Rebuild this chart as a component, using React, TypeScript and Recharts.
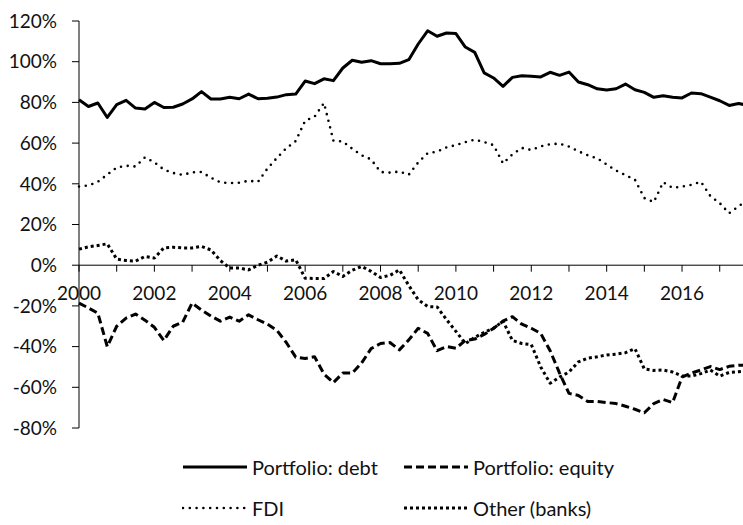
import { Legend, Line, LineChart, ReferenceLine, XAxis, YAxis } from "recharts";

// quarterly observations, 2000Q1 .. 2017Q4 (share of total, %)
const quarters = Array.from({ length: 72 }, (_, i) => 2000 + i / 4);

const debt = [
  81.3, 78.0, 79.7, 72.6, 78.9, 81.0, 77.2, 76.8, 80.0, 77.5, 77.6, 79.2,
  81.7, 85.3, 81.7, 81.7, 82.5, 81.8, 84.1, 81.8, 82.0, 82.6, 83.8, 84.1,
  90.5, 89.2, 91.6, 90.7, 96.9, 100.7, 99.7, 100.5, 99.0, 99.0, 99.2, 101.0,
  108.7, 115.2, 112.5, 114.1, 113.8, 107.2, 104.6, 94.5, 92.0, 87.9, 92.3, 93.1,
  92.8, 92.5, 94.8, 93.3, 94.9, 90.0, 88.7, 86.7, 86.1, 86.7, 89.0, 86.2,
  84.9, 82.5, 83.3, 82.5, 82.2, 84.6, 84.3, 82.6, 80.8, 78.5, 79.5, 78.5,
];

const equity = [
  -18.6, -21, -23.6, -40, -30, -26, -24, -27, -30.5, -37, -30, -28,
  -18.6, -22, -25, -27.5, -25.5, -27.5, -24.4, -26.8, -29, -32, -38, -45.2,
  -45.8, -45, -53.5, -57.7, -53, -53, -48, -41, -38.5, -38, -41.6, -36.7,
  -31, -33.5, -42, -40, -40.8, -37, -36.3, -34, -31, -27.5, -25.3, -29,
  -31, -33.5, -42, -53, -63, -64, -67, -67, -67.5, -68, -69.3, -70.8,
  -72.5, -68, -66, -67.5, -55, -53, -51.5, -49.8, -51.3, -49.7, -49.2, -49,
];

const fdi = [
  38.7, 39.2, 41, 44.5, 48, 48.9, 48.5, 53, 50.5, 47, 45.3, 44.4,
  45.6, 45.8, 43, 40.7, 40.4, 40.5, 41.5, 41, 47.5, 52.7, 57.5, 61,
  71, 73, 79.7, 61.2, 60.8, 57.2, 54, 52, 45.8, 45.5, 46, 44.5,
  50.5, 55, 55.8, 57.9, 59, 60.5, 61.7, 60.5, 59, 50, 54.5, 57.6,
  56.6, 58.4, 59.5, 59.7, 58.3, 56, 54, 52.5, 49.5, 46.5, 44.3, 42,
  33, 31, 40.8, 38, 38.6, 39.5, 41, 34, 30.5, 25.5, 29, 32,
];

const other = [
  7.9, 9, 9.7, 10.5, 3, 2.3, 2, 4.3, 3.5, 8.5, 8.8, 8.5,
  8.5, 9.2, 7.5, 2.3, -1.4, -1.4, -2.3, 0, 1.5, 4.5, 2, 2.7,
  -6.4, -6.5, -6.5, -3.1, -5.5, -2.5, -0.6, -3, -6, -5, -2.3, -10,
  -17, -20.3, -20.5, -26.7, -32.5, -38.5, -35.5, -33, -31, -27.5, -37, -38.5,
  -39, -50, -58, -55, -52.5, -47.5, -45.7, -45, -44.1, -43.7, -43, -41,
  -51, -51.7, -51.5, -52.5, -54.5, -54.5, -53.3, -51.5, -54.5, -52.7, -52.3, -52,
];

const yearTicks = [
  2000, 2001, 2002, 2003, 2004, 2005, 2006, 2007, 2008, 2009, 2010, 2011,
  2012, 2013, 2014, 2015, 2016, 2017,
];
const labelledYears = [2000, 2002, 2004, 2006, 2008, 2010, 2012, 2014, 2016];
const yTicks = [-80, -60, -40, -20, 0, 20, 40, 60, 80, 100, 120];

const series = [
  { key: "debt", name: "Portfolio: debt", width: 3, dash: undefined, cap: "butt" },
  { key: "equity", name: "Portfolio: equity", width: 3, dash: "8 4", cap: "butt" },
  { key: "fdi", name: "FDI", width: 2.6, dash: "0 6.8", cap: "round" },
  { key: "other", name: "Other (banks)", width: 3, dash: "3 3", cap: "butt" },
] as const;

const data = quarters.map((t, i) => ({
  t,
  debt: debt[i],
  equity: equity[i],
  fdi: fdi[i],
  other: other[i],
}));

const FONT = "Lato, 'Open Sans', sans-serif";
const INK = "#111";
const AXIS_FS = 19;

function LegendBox() {
  return (
    <div
      style={{
        display: "grid",
        gridTemplateColumns: "221px 221px",
        gridAutoRows: "20px",
        rowGap: 21,
        paddingLeft: 182,
        fontFamily: FONT,
        fontSize: 20,
        color: INK,
      }}
    >
      {series.map((s) => (
        <div key={s.key} style={{ display: "flex", alignItems: "center", height: 20 }}>
          <svg width={66} height={20} style={{ flex: "none" }}>
            <line
              x1={1}
              y1={10}
              x2={65}
              y2={10}
              stroke="#000"
              strokeWidth={s.width}
              strokeDasharray={s.dash}
              strokeLinecap={s.cap}
            />
          </svg>
          <span style={{ marginLeft: 4, lineHeight: "20px", whiteSpace: "nowrap" }}>{s.name}</span>
        </div>
      ))}
    </div>
  );
}

export default function App() {
  return (
    <div
      style={{
        position: "absolute",
        left: 0,
        top: 0,
        width: 743,
        height: 525,
        overflow: "hidden",
        background: "#fff",
      }}
    >
      <LineChart
        width={748}
        height={525}
        data={data}
        margin={{ top: 21, right: 0, left: 0, bottom: 97 }}
      >
        <XAxis type="number" dataKey="t" domain={[2000, 2017.75]} hide />
        <YAxis
          type="number"
          domain={[-80, 120]}
          ticks={yTicks}
          interval={0}
          tickFormatter={(v) => `${v}%`}
          width={79}
          tickSize={7}
          tickMargin={15}
          axisLine={{ stroke: "#000", strokeWidth: 1 }}
          tickLine={{ stroke: "#000", strokeWidth: 1 }}
          tick={{ fill: INK, fontSize: AXIS_FS, fontFamily: FONT }}
        />
        <ReferenceLine y={0} stroke="#000" strokeWidth={1} />
        {yearTicks.map((yr) => (
          <ReferenceLine
            key={yr}
            segment={[
              { x: yr, y: 0 },
              { x: yr, y: -3.2 },
            ]}
            stroke="#000"
            strokeWidth={1}
            label={
              labelledYears.includes(yr)
                ? {
                    value: String(yr),
                    position: "bottom",
                    offset: 15,
                    fill: INK,
                    fontSize: AXIS_FS,
                    fontFamily: FONT,
                  }
                : undefined
            }
          />
        ))}
        {series.map((s) => (
          <Line
            key={s.key}
            type="linear"
            dataKey={s.key}
            name={s.name}
            stroke="#000"
            strokeWidth={s.width}
            strokeDasharray={s.dash}
            strokeLinecap={s.cap}
            strokeLinejoin="round"
            dot={false}
            activeDot={false}
            isAnimationActive={false}
          />
        ))}
        <Legend
          layout="horizontal"
          verticalAlign="middle"
          align="center"
          wrapperStyle={{ top: 457, left: 0, width: 743 }}
          content={() => <LegendBox />}
        />
      </LineChart>
    </div>
  );
}
